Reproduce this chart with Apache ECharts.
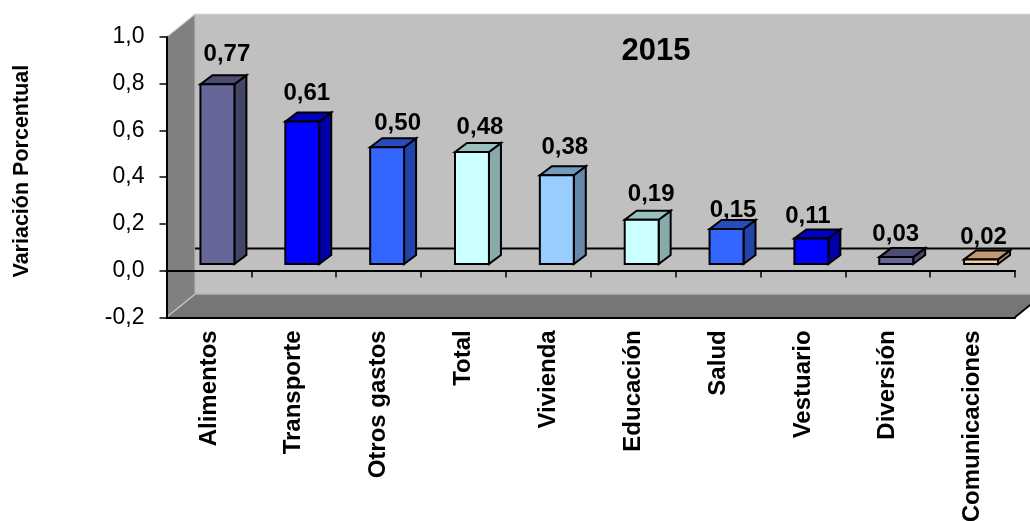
<!DOCTYPE html>
<html><head><meta charset="utf-8">
<style>html,body{margin:0;padding:0;background:#fff}#c{width:1030px;height:521px}</style>
<script src="https://cdn.jsdelivr.net/npm/echarts@6/dist/echarts.min.js"></script>
</head><body><div id="c"></div>
<script>
const categories = ['Alimentos','Transporte','Otros gastos','Total','Vivienda','Educación','Salud','Vestuario','Diversión','Comunicaciones'];
const values = [0.77,0.61,0.50,0.48,0.38,0.19,0.15,0.11,0.03,0.02];
const barColors = ['#666699','#0000FF','#3366FF','#CCFFFF','#99CCFF','#CCFFFF','#3366FF','#0000FF','#666699','#FFCC99'];
const yTicks = {min:-0.2,max:1,interval:0.2};
const titleText = '2015';
const yTitle = 'Variación Porcentual';

const FONT = '"Liberation Sans", Arial, sans-serif';
const WALL = {dx:28.5, dy:-23};
const BAR = {dx:8.5, dy:-6.5, depthX:12, depthY:-9, ratio:0.4};
const labelNudge = [[1.5,-3],[-3.5,-1],[2.5,3],[0,2],[0,-1],[1.5,2],[-1.5,8],[-11.5,5],[-8.5,4],[-5.5,5]];

function shade(hex,f){
  const n=parseInt(hex.slice(1),16);
  const c=[n>>16&255,n>>8&255,n&255].map(v=>Math.round(v*f));
  return 'rgb('+c.join(',')+')';
}
const poly=(pts,fill,stroke,lw)=>({type:'polygon',shape:{points:pts},style:{fill:fill,stroke:stroke||'none',lineWidth:lw||0}});
const seg=(a,b,col,lw)=>({type:'line',shape:{x1:a[0],y1:a[1],x2:b[0],y2:b[1]},style:{stroke:col,lineWidth:lw}});

function renderWalls(params,api){
  const c=params.coordSys, L=c.x, R=c.x+c.width, T=c.y, B=c.y+c.height;
  const d=WALL, zero=api.coord([0,0])[1];
  const bl=L+d.dx, tp=T+d.dy, bb=B+d.dy;
  return {type:'group',children:[
    poly([[bl,tp],[R+d.dx,tp],[R+d.dx,bb],[bl,bb]],'#C0C0C0'),
    poly([[L,T],[bl,tp],[bl,bb],[L,B]],'#808080'),
    poly([[L,B],[bl,bb],[R+d.dx,bb],[R,B]],'#767676'),
    seg([L,T],[bl,tp],'#D8D8D8',1.2),
    seg([bl,tp],[R+d.dx,tp],'#DDDDDD',1.2),
    seg([bl,tp],[bl,bb],'#B4B4B4',1.2),
    seg([L,B],[bl,bb],'#C8C8C8',1.2),
    seg([bl,bb],[R+d.dx,bb],'#A6A6A6',1.5),
    seg([R,B],[R+d.dx,bb],'#000',1.8),
    seg([bl,zero+d.dy+1],[R+d.dx,zero+d.dy+1],'#000',2)
  ]};
}
function renderBar(params,api){
  const i=api.value(0), v=api.value(1);
  const cat=api.size([1,0])[0], w=cat*BAR.ratio;
  const cx=api.coord([i,0])[0]+BAR.dx;
  const y0=api.coord([i,0])[1]+BAR.dy, y1=api.coord([i,v])[1]+BAR.dy;
  const x0=cx-w/2, x1=cx+w/2, dx=BAR.depthX, dy=BAR.depthY, col=barColors[i], k='#000', lw=2;
  const n=labelNudge[i];
  return {type:'group',children:[
    poly([[x1,y1],[x1+dx,y1+dy],[x1+dx,y0+dy],[x1,y0]],shade(col,.667),k,lw),
    poly([[x0,y1],[x0+dx,y1+dy],[x1+dx,y1+dy],[x1,y1]],shade(col,.75),k,lw),
    poly([[x0,y1],[x1,y1],[x1,y0],[x0,y0]],col,k,lw),
    {type:'text',z2:10,x:cx+8+n[0],y:y1-27+n[1],style:{
      text:v.toFixed(2).replace('.',','),font:'bold 24px '+FONT,fill:'#000',align:'center',verticalAlign:'middle'}}
  ]};
}
const chart=echarts.init(document.getElementById('c'),null,{renderer:'canvas'});
chart.setOption({
  animation:false,
  backgroundColor:'#fff',
  title:{text:titleText,left:651,top:31,textAlign:'center',textStyle:{fontFamily:FONT,fontWeight:'bold',fontSize:31,color:'#000'}},
  grid:{left:166.5,right:15,top:37,bottom:203.7,containLabel:false,outerBoundsMode:'none'},
  xAxis:[
    {type:'category',data:categories,position:'bottom',z:3,
     axisLine:{onZero:false,lineStyle:{color:'#000',width:2}},axisTick:{show:false},
     axisLabel:{interval:0,rotate:90,margin:13,padding:[6,0,0,0],fontFamily:FONT,fontWeight:'bold',fontSize:24,color:'#000',hideOverlap:false},splitLine:{show:false}},
    {type:'category',data:categories,position:'bottom',z:3,
     axisLine:{onZero:true,lineStyle:{color:'#000',width:2}},
     axisTick:{show:true,interval:0,length:7,alignWithLabel:false,lineStyle:{color:'#000',width:1.5}},
     axisLabel:{show:false},splitLine:{show:false}}
  ],
  yAxis:{type:'value',min:yTicks.min,max:yTicks.max,interval:yTicks.interval,z:3,
    name:yTitle,nameLocation:'middle',nameGap:133,nameRotate:90,
    nameTextStyle:{fontFamily:FONT,fontWeight:'bold',fontSize:21.5,color:'#000',padding:[0,0,0,12]},
    axisLine:{show:true,lineStyle:{color:'#000',width:2}},
    axisTick:{show:true,length:7,lineStyle:{color:'#000',width:1.5}},
    axisLabel:{margin:22,fontFamily:FONT,fontSize:23,color:'#000',
      formatter:v=>v.toFixed(1).replace('.',',')},
    splitLine:{show:false}},
  series:[
    {type:'custom',z:1,silent:true,renderItem:renderWalls,data:[[0,0]],encode:{x:0,y:1},clip:false},
    {type:'custom',z:4,renderItem:renderBar,data:values.map((v,i)=>[i,v]),encode:{x:0,y:1},clip:false}
  ]
});
</script></body></html>
